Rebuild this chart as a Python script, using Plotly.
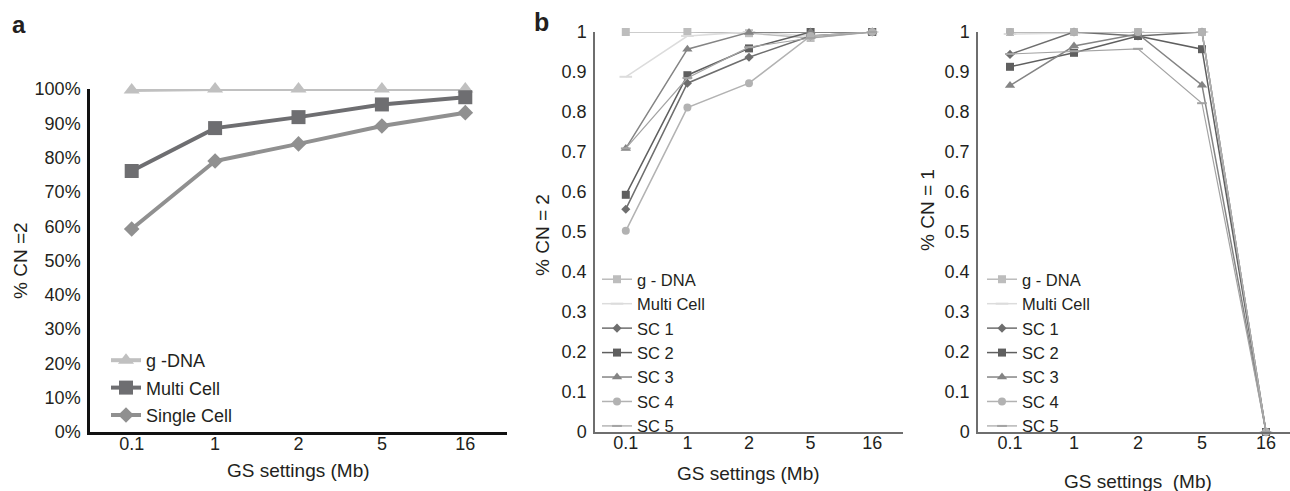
import plotly.graph_objects as go

W, H = 1290, 491

categories = ["0.1", "1", "2", "5", "16"]

# Panel a (% CN = 2)
a_names = ["g -DNA", "Multi Cell", "Single Cell"]
a_gdna = [0.997, 1.0, 1.0, 1.0, 1.0]
a_multi = [0.761, 0.886, 0.918, 0.955, 0.976]
a_single = [0.592, 0.790, 0.840, 0.892, 0.931]

# Panel b left (% CN = 2)
b_names = ["g - DNA", "Multi Cell", "SC 1", "SC 2", "SC 3", "SC 4", "SC 5"]
b_gdna = [1.0, 1.0, 0.997, 0.985, 1.0]
b_multi = [0.888, 0.99, 1.0, 0.99, 1.0]
b_sc1 = [0.557, 0.872, 0.937, 0.99, 1.0]
b_sc2 = [0.593, 0.892, 0.959, 1.0, 1.0]
b_sc3 = [0.709, 0.957, 0.999, 1.0, 1.0]
b_sc4 = [0.503, 0.811, 0.872, 0.99, 1.0]
b_sc5 = [0.709, 0.885, 0.962, 0.985, 1.0]

# Panel b right (% CN = 1)
c_gdna = [1.0, 1.0, 1.0, 1.0, 0.0]
c_multi = [0.995, 0.997, 1.0, 1.0, 0.0]
c_sc1 = [0.944, 1.0, 0.99, 1.0, 0.0]
c_sc2 = [0.913, 0.948, 0.99, 0.957, 0.0]
c_sc3 = [0.866, 0.965, 0.995, 0.867, 0.0]
c_sc4 = [1.0, 1.0, 1.0, 1.0, 0.0]
c_sc5 = [0.945, 0.952, 0.958, 0.822, 0.0]

FONT = "Liberation Sans, Arial, Helvetica, sans-serif"
TXT = "#231f20"

def px_x(p):
    return p / W

def px_y(p):
    return 1 - p / H

fig = go.Figure()

# ---------- panel a ----------
a_styles = [
    dict(color="#c0c0c0", symbol="triangle-up", size=14),
    dict(color="#6e6e71", symbol="square", size=14),
    dict(color="#909090", symbol="diamond", size=12),
]
for name, vals, st in zip(a_names, [a_gdna, a_multi, a_single], a_styles):
    fig.add_trace(go.Scatter(
        x=categories, y=vals, name=name, mode="lines+markers",
        line=dict(color=st["color"], width=4),
        marker=dict(color=st["color"], symbol=st["symbol"], size=st["size"]),
        xaxis="x", yaxis="y", legend="legend", legendgroup="a" + name,
        cliponaxis=False,
    ))

# ---------- panel b ----------
b_styles = [
    dict(color="#bdbdbd", symbol="square", size=8, lw=1.5),
    dict(color="#dcdcdc", symbol="line-ew", size=9, lw=1.5),
    dict(color="#6e6e6e", symbol="diamond", size=7, lw=1.5),
    dict(color="#5f5f5f", symbol="square", size=8, lw=1.5),
    dict(color="#848484", symbol="triangle-up", size=9, lw=1.5),
    dict(color="#b2b2b2", symbol="circle", size=8, lw=1.5),
    dict(color="#a3a3a3", symbol="line-ew", size=7, lw=1.2),
]

def add_panel(vals_list, xa, ya, leg):
    for name, vals, st in zip(b_names, vals_list, b_styles):
        mk = dict(color=st["color"], symbol=st["symbol"], size=st["size"])
        if st["symbol"].startswith("line"):
            mk["line"] = dict(color=st["color"], width=2)
        fig.add_trace(go.Scatter(
            x=categories, y=vals, name=name, mode="lines+markers",
            line=dict(color=st["color"], width=st["lw"]),
            marker=mk, xaxis=xa, yaxis=ya, legend=leg, cliponaxis=False,
        ))

add_panel([b_gdna, b_multi, b_sc1, b_sc2, b_sc3, b_sc4, b_sc5], "x2", "y2", "legend2")
add_panel([c_gdna, c_multi, c_sc1, c_sc2, c_sc3, c_sc4, c_sc5], "x3", "y3", "legend3")

tickfont = dict(family=FONT, size=18, color=TXT)

def xaxis(dom, rng, col, lw):
    return dict(domain=dom, type="category", range=rng, showgrid=False, zeroline=False,
                showline=True, linecolor=col, linewidth=lw, ticks="", tickfont=tickfont,
                ticklabelstandoff=-6, fixedrange=True)

def yaxis(dom, anchor, col, lw, fmt):
    return dict(domain=dom, anchor=anchor, range=[0, 1], dtick=0.1, tick0=0, showgrid=False,
                zeroline=False, showline=True, linecolor=col, linewidth=lw, ticks="",
                tickfont=tickfont, tickformat=fmt, ticklabelstandoff=3, fixedrange=True)

bottom = px_y(432)
fig.update_layout(
    width=W, height=H,
    margin=dict(l=0, r=0, t=0, b=0, pad=0, autoexpand=False),
    paper_bgcolor="white", plot_bgcolor="white",
    font=dict(family=FONT, color=TXT),
    xaxis=dict(**xaxis([px_x(90), px_x(507)], [-0.5, 4.5], "#111111", 2.5), anchor="y"),
    yaxis=yaxis([bottom, px_y(89)], "x", "#111111", 2.5, ".0%"),
    xaxis2=dict(**xaxis([px_x(595), px_x(903)], [-0.5, 4.5], "#6e6e6e", 1.5), anchor="y2"),
    yaxis2=yaxis([bottom, px_y(32)], "x2", "#6e6e6e", 1.5, ""),
    xaxis3=dict(**xaxis([px_x(978), 1.0], [-0.5, 4.375], "#6e6e6e", 1.5), anchor="y3"),
    yaxis3=yaxis([bottom, px_y(32)], "x3", "#6e6e6e", 1.5, ""),
    legend=dict(x=px_x(106), y=px_y(342), xanchor="left", yanchor="top",
                bgcolor="rgba(0,0,0,0)", font=dict(family=FONT, size=18, color=TXT),
                traceorder="grouped", tracegroupgap=1),
    legend2=dict(x=px_x(597), y=px_y(262), xanchor="left", yanchor="top",
                 bgcolor="rgba(0,0,0,0)", font=dict(family=FONT, size=16.5, color=TXT)),
    legend3=dict(x=px_x(982), y=px_y(262), xanchor="left", yanchor="top",
                 bgcolor="rgba(0,0,0,0)", font=dict(family=FONT, size=16.5, color=TXT)),
    showlegend=True,
)

ann = [
    dict(text="<b>a</b>", x=px_x(10), y=px_y(9), xanchor="left", yanchor="top", size=24),
    dict(text="<b>b</b>", x=px_x(532), y=px_y(6), xanchor="left", yanchor="top", size=25),
    dict(text="GS settings (Mb)", x=px_x(298), y=px_y(470), xanchor="center", yanchor="middle", size=19),
    dict(text="GS settings (Mb)", x=px_x(748), y=px_y(473), xanchor="center", yanchor="middle", size=19),
    dict(text="GS settings  (Mb)", x=px_x(1138), y=px_y(481), xanchor="center", yanchor="middle", size=19),
]
for a in ann:
    fig.add_annotation(text=a["text"], x=a["x"], y=a["y"], xref="paper", yref="paper",
                       xanchor=a["xanchor"], yanchor=a["yanchor"], showarrow=False,
                       font=dict(family=FONT, size=a["size"], color=TXT))

for text, x, y in [("% CN =2", 20, 261), ("% CN = 2", 543, 235), ("% CN = 1", 927, 210)]:
    fig.add_annotation(text=text, x=px_x(x), y=px_y(y), xref="paper", yref="paper",
                       xanchor="center", yanchor="middle", showarrow=False, textangle=-90,
                       font=dict(family=FONT, size=19, color=TXT))

fig.write_html("out.html", config={"displayModeBar": False},
               post_script="document.body.style.margin='0';")
